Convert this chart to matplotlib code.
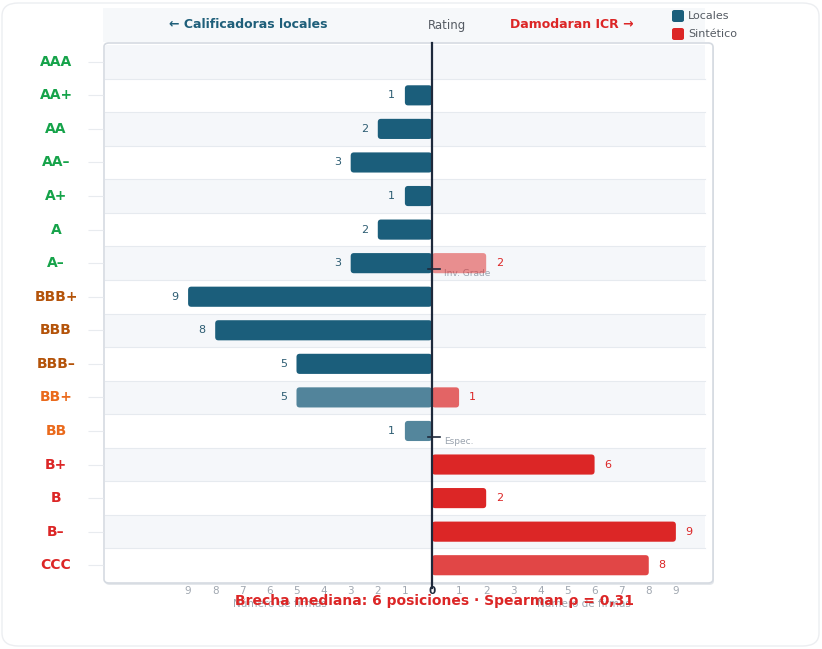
import matplotlib
matplotlib.use("Agg")
import matplotlib.pyplot as plt
from matplotlib.patches import FancyBboxPatch, Rectangle
from matplotlib.transforms import blended_transform_factory

ratings = ["AAA", "AA+", "AA", "AA–", "A+", "A", "A–", "BBB+", "BBB", "BBB–",
           "BB+", "BB", "B+", "B", "B–", "CCC"]
locales = [0, 1, 2, 3, 1, 2, 3, 9, 8, 5, 5, 1, 0, 0, 0, 0]
sintetico = [0, 0, 0, 0, 0, 0, 2, 0, 0, 0, 1, 0, 6, 2, 9, 8]
tick_vals = list(range(-9, 10))
grade_marks = [("A–", "Inv. Grade"), ("BB", "Espec.")]

# styling per row
loc_alpha = [1, 1, 1, 1, 1, 1, 1, 1, 1, 1, .75, .75, 1, 1, 1, 1]
sin_alpha = [1, 1, 1, 1, 1, 1, .5, 1, 1, 1, .7, 1, 1, 1, 1, .85]
label_colors = ["#16a34a"] * 7 + ["#b45309"] * 3 + ["#ea6a1c"] * 2 + ["#dc2626"] * 4

TEAL = "#1b5e7b"
RED = "#dc2626"
W, H = 822, 649


def fx(px):
    return px / W


def fy(px):
    return 1 - px / H


fig = plt.figure(figsize=(W / 100, H / 100), dpi=100)
fig.patch.set_facecolor("white")

# outer card
fig.patches.append(FancyBboxPatch((fx(2), fy(646)), fx(817), 643 / H,
                                  boxstyle="round,pad=0,rounding_size=0.02",
                                  transform=fig.transFigure, fc="white",
                                  ec="#eceef1", lw=1, zorder=-3))
# header band
fig.patches.append(Rectangle((fx(103), fy(42)), fx(602), 34 / H,
                             transform=fig.transFigure, fc="#f6f8fa", ec="none", zorder=-2))
# panel frame (with a faint shadow)
fig.patches.append(FancyBboxPatch((fx(105), fy(585)), fx(609), 540 / H,
                                  boxstyle="round,pad=0,rounding_size=0.006",
                                  transform=fig.transFigure, fc="#e4e7eb",
                                  ec="none", zorder=-1.5))
fig.patches.append(FancyBboxPatch((fx(104), fy(583)), fx(609), 540 / H,
                                  boxstyle="round,pad=0,rounding_size=0.006",
                                  transform=fig.transFigure, fc="white",
                                  ec="#d5dae1", lw=1.2, zorder=-1))

ax = fig.add_axes([fx(103), fy(582), fx(610), 537 / H])
ax.set_facecolor("none")
ax.set_ylim(len(ratings) - 0.5, -0.5)
ax.set_xlim(-12.14, 10.37)
for s in ax.spines.values():
    s.set_visible(False)

ys = list(range(len(ratings)))
for i in ys:
    if i % 2 == 0:
        ax.axhspan(i - 0.5, i + 0.5, xmin=0.003, xmax=0.987, color="#f5f7fa", lw=0, zorder=0)
    if i > 0:
        ax.axhline(i - 0.5, xmin=0.003, xmax=0.987, color="#e6eaef", lw=0.8, zorder=0.5)

bars_l = ax.barh(ys, [-v for v in locales], height=0.6, color=TEAL)
bars_r = ax.barh(ys, sintetico, height=0.6, color=RED)


def round_bars(bars, alphas, color):
    for rect, a in zip(bars, alphas):
        x, y, w, h = rect.get_x(), rect.get_y(), rect.get_width(), rect.get_height()
        rect.remove()
        if w == 0:
            continue
        if w < 0:
            x, w = x + w, -w
        ax.add_patch(FancyBboxPatch((x, y), w, h,
                                    boxstyle="round,pad=0,rounding_size=0.12",
                                    mutation_aspect=0.81, fc=color, ec="none",
                                    alpha=a, zorder=2))


round_bars(bars_l, loc_alpha, TEAL)
round_bars(bars_r, sin_alpha, RED)

for i, (l, r) in enumerate(zip(locales, sintetico)):
    if l:
        ax.annotate(str(l), (-l, i), xytext=(-7, 0), textcoords="offset points",
                    ha="right", va="center", fontsize=8, color="#2d5d73", zorder=3)
    if r:
        ax.annotate(str(r), (r, i), xytext=(7, 0), textcoords="offset points",
                    ha="left", va="center", fontsize=8, color=RED, zorder=3)

# zero line
ax.axvline(0, ymin=-0.012, ymax=1.004, color="#1e293b", lw=1.6, zorder=4, clip_on=False)

# grade markers
for name, lab in grade_marks:
    i = ratings.index(name)
    ax.plot([-0.15, 0.3], [i + 0.18, i + 0.18], color="#1e293b", lw=1.2, zorder=4)
    ax.text(0.44, i + 0.3, lab, fontsize=6.5, color="#9aa3ae", va="center", ha="left", zorder=1)

# y labels
ax.set_yticks(ys)
ax.set_yticklabels([])
ax.tick_params(axis="y", length=11, width=0.8, color="#e8ebef")
tr = blended_transform_factory(ax.transAxes, ax.transData)
for i, (r, c) in enumerate(zip(ratings, label_colors)):
    ax.text(-0.077, i, r, transform=tr, ha="center", va="center",
            fontsize=10, fontweight="bold", color=c)

# x ticks
ax.set_xticks(tick_vals)
ax.set_xticklabels([str(abs(v)) for v in tick_vals])
ax.tick_params(axis="x", length=0, pad=3, labelsize=7.5, labelcolor="#a0a7b0")
for t, v in zip(ax.get_xticklabels(), tick_vals):
    if v == 0:
        t.set_color("#1e293b")
        t.set_fontweight("bold")

for xv in (-5.6, 5.6):
    ax.text(xv, len(ratings) - 0.5 + 22 / 33.5, "Número de firmas",
            ha="center", va="center", fontsize=7.5, color="#a0a7b0", clip_on=False)

fig.text(fx(434), fy(601), "Brecha mediana: 6 posiciones · Spearman ρ = 0,31",
         ha="center", va="center", fontsize=10, fontweight="bold", color=RED)

# header
fig.text(fx(248), fy(25), "← Calificadoras locales", ha="center", va="center",
         fontsize=9, fontweight="bold", color="#1f5f7a")
fig.text(fx(447), fy(25), "Rating", ha="center", va="center", fontsize=8.5, color="#555b63")
fig.text(fx(572), fy(25), "Damodaran ICR →", ha="center", va="center",
         fontsize=9, fontweight="bold", color=RED)

# legend
for k, (lab, col) in enumerate([("Locales", TEAL), ("Sintético", RED)]):
    y0 = 10 + k * 18
    fig.patches.append(FancyBboxPatch((fx(672), fy(y0 + 12)), fx(12), 12 / H,
                                      boxstyle="round,pad=0,rounding_size=0.003",
                                      transform=fig.transFigure, fc=col, ec="none"))
    fig.text(fx(688), fy(y0 + 6), lab, ha="left", va="center", fontsize=8, color="#555b63")

fig.savefig("out.png", dpi=100)
